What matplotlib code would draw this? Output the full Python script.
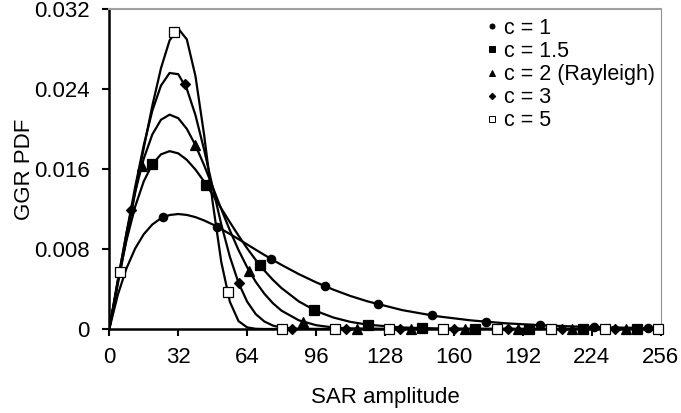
import matplotlib
matplotlib.use('Agg')
from matplotlib import pyplot as plt
from matplotlib.lines import Line2D

plt.rcParams['font.family'] = ['Liberation Sans', 'DejaVu Sans']

# SAR amplitude grid for the curves
amp = [0, 4, 8, 12, 16, 20, 24, 28, 32, 36, 40, 44, 48, 52, 56, 60, 64, 68, 72,
       76, 80, 88, 96, 104, 112, 120, 136, 152, 168, 184, 200, 216, 232, 248, 256]

pdf_c1 = [0, 0.00345, 0.00608, 0.00805, 0.00948, 0.01046, 0.01107, 0.01140, 0.01150,
          0.01141, 0.01119, 0.01086, 0.01046, 0.01000, 0.00950, 0.00899, 0.00846,
          0.00793, 0.00741, 0.00690, 0.00641, 0.00549, 0.00467, 0.00394, 0.00330,
          0.00276, 0.00189, 0.00128, 0.00086, 0.00057, 0.00038, 0.00025, 0.00016,
          0.00010, 0.00008]
pdf_c15 = [0, 0.00474, 0.00888, 0.01224, 0.01477, 0.01649, 0.01747, 0.01779, 0.01757,
           0.01692, 0.01595, 0.01476, 0.01344, 0.01206, 0.01068, 0.00934, 0.00807,
           0.00691, 0.00585, 0.00491, 0.00409, 0.00276, 0.00180, 0.00115, 0.00071,
           0.00043, 0.00015, 0.00005, 0.00001, 0, 0, 0, 0, 0, 0]
pdf_c2 = [0, 0.00495, 0.00961, 0.01371, 0.01704, 0.01947, 0.02093, 0.02144, 0.02109,
          0.02002, 0.01839, 0.01640, 0.01422, 0.01199, 0.00986, 0.00790, 0.00618,
          0.00472, 0.00353, 0.00257, 0.00183, 0.00087, 0.00038, 0.00015, 0.00006,
          0.00002, 0, 0, 0, 0, 0, 0, 0, 0, 0]
pdf_c3 = [0, 0.00484, 0.00962, 0.01420, 0.01838, 0.02185, 0.02435, 0.02561, 0.02549,
          0.02402, 0.02140, 0.01796, 0.01417, 0.01047, 0.00722, 0.00462, 0.00274,
          0.00149, 0.00075, 0.00034, 0.00014, 0.00002, 0, 0, 0,
          0, 0, 0, 0, 0, 0, 0, 0, 0, 0]
pdf_c5 = [0, 0.00455, 0.00910, 0.01364, 0.01810, 0.02235, 0.02609, 0.02887, 0.03005,
          0.02897, 0.02531, 0.01946, 0.01268, 0.00670, 0.00272, 0.00079, 0.00016,
          0.00002, 0, 0, 0, 0, 0, 0, 0,
          0, 0, 0, 0, 0, 0, 0, 0, 0, 0]

# marker positions and values
mx_c1 = [25, 50, 75, 100, 125, 150, 175, 200, 225, 250]
my_c1 = [0.01118, 0.01023, 0.00703, 0.00429, 0.00246, 0.00135, 0.00072, 0.00038,
         0.00019, 0.00010]
mx_c15 = [20, 45, 70, 95, 120, 145, 170, 195, 220, 245]
my_c15 = [0.01649, 0.01444, 0.00637, 0.00190, 0.00043, 0.00008, 0, 0, 0, 0]
mx_c2 = [15, 40, 65, 90, 115, 140, 165, 190, 215, 240]
my_c2 = [0.01629, 0.01839, 0.00580, 0.00071, 0.00004, 0, 0, 0, 0, 0]
mx_c3 = [10, 35, 60, 85, 110, 135, 160, 185, 210, 235]
my_c3 = [0.01195, 0.02451, 0.00462, 0.00004, 0, 0, 0, 0, 0, 0]
mx_c5 = [5, 30, 55, 80, 105, 130, 155, 180, 205, 230, 255]
my_c5 = [0.00569, 0.02970, 0.00370, 0, 0, 0, 0, 0, 0, 0, 0]

labels = ['c = 1', 'c = 1.5', 'c = 2 (Rayleigh)', 'c = 3', 'c = 5']
curves = [pdf_c1, pdf_c15, pdf_c2, pdf_c3, pdf_c5]
mxs = [mx_c1, mx_c15, mx_c2, mx_c3, mx_c5]
mys = [my_c1, my_c15, my_c2, my_c3, my_c5]
markers = ['o', 's', '^', 'D', 's']
msizes = [6, 6.5, 7, 5.5, 6.5]
faces = ['black', 'black', 'black', 'black', 'white']

fig = plt.figure(figsize=(6.81, 4.13), dpi=100)
ax = fig.add_axes([0.1605, 0.2034, 0.8095, 0.7746])

handles = []
for y, mx, my, m, ms, fc, lab in zip(curves, mxs, mys, markers, msizes, faces, labels):
    ax.plot(amp, y, color='black', lw=1.6, zorder=2)
    ax.plot(mx, my, ls='none', marker=m, ms=ms, mfc=fc, mec='black', mew=0.9,
            zorder=3, clip_on=False)
    handles.append(Line2D([], [], ls='none', marker=m, ms=ms * 0.6, mfc=fc,
                          mec='black', mew=0.7, label=lab))

ax.set_xlim(0, 256)
ax.set_ylim(0, 0.032)
ax.set_xticks(range(0, 257, 32))
ax.set_yticks([0, 0.008, 0.016, 0.024, 0.032])
ax.set_yticklabels(['0', '0.008', '0.016', '0.024', '0.032'])
ax.tick_params(axis='both', labelsize=16, direction='out', length=5, width=1.5,
               colors='black')
ax.tick_params(axis='y', pad=9)
ax.tick_params(axis='x', pad=8)

ax.spines['left'].set_linewidth(1.8)
ax.spines['bottom'].set_linewidth(1.8)
ax.spines['top'].set_color('#a0a0a0')
ax.spines['top'].set_linewidth(1.5)
ax.spines['right'].set_color('#909090')
ax.spines['right'].set_linewidth(0.8)
ax.spines['right'].set_linestyle((0, (2, 1)))

ax.set_xlabel('SAR amplitude', fontsize=16, labelpad=14)
ax.set_ylabel('GGR PDF', fontsize=16, labelpad=-0.5)

ax.legend(handles=handles, loc='upper left', bbox_to_anchor=(0.656, 1.02),
          frameon=False, fontsize=15.5, handlelength=0.6, handletextpad=0.25,
          labelspacing=0.1, borderpad=0.2)

fig.savefig('out.png', dpi=100)
